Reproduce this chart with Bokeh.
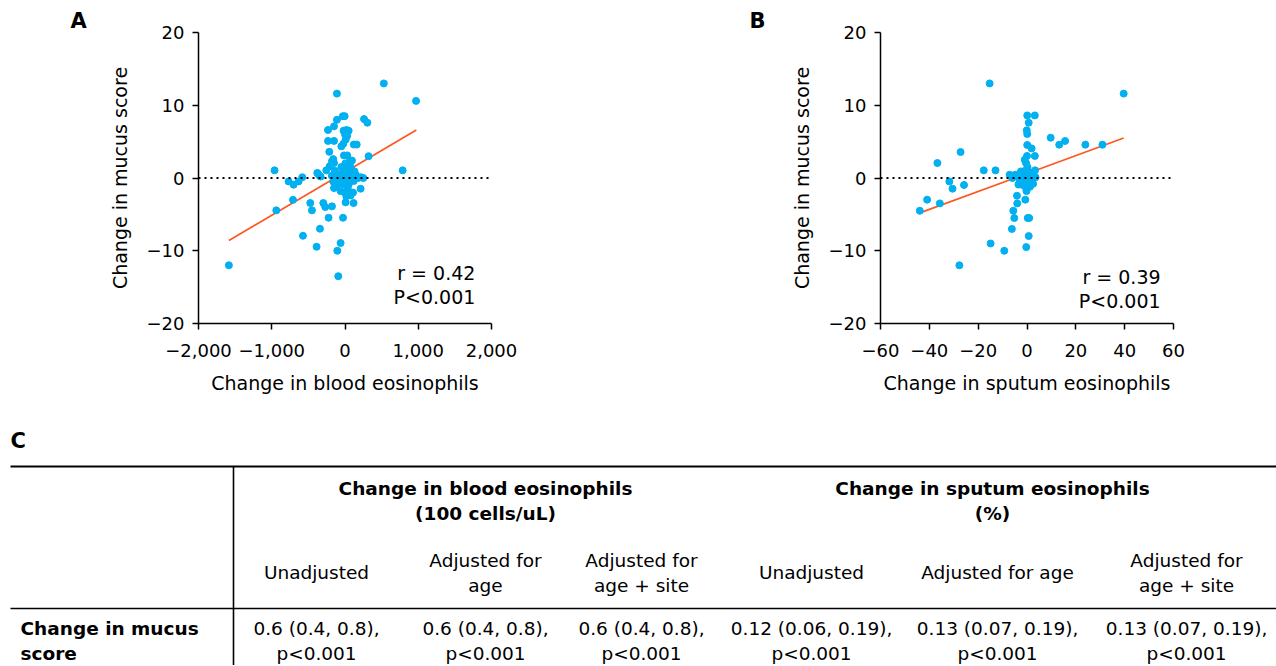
from bokeh.plotting import figure
from bokeh.models import Range1d, FixedTicker, Span, Label, ColumnDataSource
from bokeh.layouts import row, column
from bokeh.embed import file_html
from bokeh.resources import INLINE
from bokeh.core.properties import value

FONT = "DejaVu Sans"

# ---------------- Data ----------------
# Panel A: change in blood eosinophils vs change in mucus score
blood_x = [530, -110, 970, -30, -5, -110, -150, -232, 260, 305,
           -20, 20, 50, 0, 30, 10, -232, -150, -50, -23,
           120, 160, -214, -14, 31, 322, -160, -178, 95, -962,
           787, -210, -255, -378, -347, -583, -770, -702, -634, -333,
           -710, -938, -474, -451, -296, -269, -178, -224, -27, -574,
           -342, -388, -60, -105, -92, 18, 77, 8, 117, 213,
           -150, -105, 50, -1585, -180, -120, -80, -60, -40, -20,
           0, 10, 20, 35, 50, 60, 80, 100, 120, 150,
           180, 220, -140, -90, -10, 40, 90, -50, 5, 70,
           -100, -30, 130, 250, -160, -150, -369, 60, 0, -60,
           110, 40]
blood_y = [13.0, 11.6, 10.6, 8.5, 8.5, 8.0, 7.1, 6.6, 8.1, 7.6,
           6.5, 6.6, 6.5, 6.0, 5.8, 5.3, 5.1, 5.1, 4.35, 4.7,
           4.6, 4.6, 3.6, 3.1, 3.1, 3.0, 2.6, 2.3, 2.4, 1.05,
           1.05, 1.6, 1.05, 0.7, 0.3, 0.1, -0.47, -0.92, -0.47, 0.2,
           -3.0, -4.45, -3.44, -4.45, -3.44, -3.99, -3.9, -5.46, -5.46, -7.94,
           -6.97, -9.45, -8.94, -10.0, -13.5, -2.5, -2.4, -3.35, -3.44, -1.47,
           -1.38, -0.92, -0.92, -12.0, 0.3, 0.0, 0.5, -0.3, 0.2, 1.2,
           0.6, -0.5, 0.0, 0.9, 0.3, -0.2, 0.6, 0.0, -0.4, 0.4,
           0.0, 0.1, 1.0, -0.8, -0.9, -1.0, 1.1, 1.5, 2.0, 1.6,
           0.5, -0.1, 0.9, 0.0, -0.5, 2.06, 0.6, 2.2, -2.0, -1.8,
           -2.0, -1.6]
fit_a_x = [-1585, 974]
fit_a_y = [-8.6, 6.6]
stat_a = ["r = 0.42", "P<0.001"]

# Panel B: change in sputum eosinophils vs change in mucus score
sputum_x = [-15.3, 0.1, 3.2, 0.7, -0.1, 0.1, 9.7, 13.2, 15.6, -27.2,
            -36.7, 0.1, 1.9, 0.0, 3.2, -0.4, -0.95, -17.7, -12.9, 3.3,
            23.9, 30.9, 39.6, -7.1, -4.8, -31.8, -30.5, -25.8, -40.9, -35.7,
            -43.9, -4.1, -4.0, -0.7, -5.6, -5.2, 0.3, 0.9, -6.2, 0.7,
            -0.3, -14.9, -9.3, -27.7, -2.2, -0.4, -6.0, -4.0, -3.0, -2.0,
            -1.0, 0.0, 0.5, 1.0, 1.5, 2.0, 2.5, 3.5, -1.5, -2.5,
            0.2, 1.2, -0.8, -3.5, 0.8, -0.2]
sputum_y = [13.0, 8.6, 8.6, 7.6, 6.55, 6.05, 5.54, 4.58, 5.09, 3.57,
            2.06, 4.54, 4.07, 3.03, 3.03, 2.06, 2.5, 1.05, 1.05, 1.05,
            4.58, 4.58, 11.6, 0.45, 0.45, -0.47, -1.47, -0.96, -2.98, -3.49,
            -4.5, -2.43, -3.49, -2.98, -4.5, -5.5, -5.5, -5.5, -7.0, -7.98,
            -9.5, -9.0, -10.0, -12.0, -0.92, -1.38, 0.0, 0.3, -0.2, 0.5,
            0.0, 0.3, -0.5, 0.8, -0.2, 0.4, -0.8, 0.1, -0.6, 0.9,
            1.5, -1.2, 1.0, -0.9, 0.0, -1.8]
fit_b_x = [-43.9, 39.6]
fit_b_y = [-4.8, 5.5]
stat_b = ["r = 0.39", "P<0.001"]

# Axes
y_ticks = [-20, -10, 0, 10, 20]
y_tick_labels = ["\u221220", "\u221210", "0", "10", "20"]
xa_ticks = [-2000, -1000, 0, 1000, 2000]
xa_tick_labels = ["\u22122,000", "\u22121,000", "0", "1,000", "2,000"]
xb_ticks = [-60, -40, -20, 0, 20, 40, 60]
xb_tick_labels = ["\u221260", "\u221240", "\u221220", "0", "20", "40", "60"]
y_title = "Change in mucus score"
xa_title = "Change in blood eosinophils"
xb_title = "Change in sputum eosinophils"

# Panel C table
group_headers = [["Change in blood eosinophils", "(100 cells/uL)"],
                 ["Change in sputum eosinophils", "(%)"]]
sub_headers = [["Unadjusted"], ["Adjusted for", "age"], ["Adjusted for", "age + site"],
               ["Unadjusted"], ["Adjusted for age"], ["Adjusted for", "age + site"]]
row_label = ["Change in mucus", "score"]
estimates = ["0.6 (0.4, 0.8),", "0.6 (0.4, 0.8),", "0.6 (0.4, 0.8),",
             "0.12 (0.06, 0.19),", "0.13 (0.07, 0.19),", "0.13 (0.07, 0.19),"]
p_values = ["p<0.001", "p<0.001", "p<0.001", "p<0.001", "p<0.001", "p<0.001"]

# ---------------- Styling ----------------
DOT = "#00B0F0"
FIT = "#FF5722"


def style(p, xticks, xlabels):
    p.grid.visible = False
    p.outline_line_color = None
    p.xaxis.ticker = FixedTicker(ticks=xticks)
    p.xaxis.major_label_overrides = {t: l for t, l in zip(xticks, xlabels)}
    p.yaxis.ticker = FixedTicker(ticks=y_ticks)
    p.yaxis.major_label_overrides = {t: l for t, l in zip(y_ticks, y_tick_labels)}
    for ax in (p.xaxis[0], p.yaxis[0]):
        ax.axis_line_color = "black"
        ax.axis_line_width = 1.5
        ax.major_tick_line_color = "black"
        ax.major_tick_line_width = 1.5
        ax.major_tick_out = 6
        ax.major_tick_in = 0
        ax.minor_tick_line_color = None
        ax.major_label_text_font = FONT
        ax.major_label_text_font_size = "18px"
        ax.major_label_text_color = "black"
        ax.axis_label_text_font = FONT
        ax.axis_label_text_font_size = "19px"
        ax.axis_label_text_font_style = "normal"
        ax.axis_label_text_color = "black"
    p.yaxis.major_label_standoff = 8
    p.xaxis.major_label_standoff = 14
    p.yaxis.axis_label_standoff = 13
    p.xaxis.axis_label_standoff = 12


def scatter_panel(width, left, right, xr, xs, ys, fx, fy, xticks, xlabels, xtitle,
                  stats, stat_x, stat_y, letter, letter_offset):
    p = figure(width=width, height=420, x_range=Range1d(*xr), y_range=Range1d(-20, 20),
               min_border_left=left, min_border_right=right, min_border_top=32,
               min_border_bottom=97, toolbar_location=None, output_backend="svg",
               background_fill_color="white", border_fill_color="white")
    style(p, xticks, xlabels)
    p.title.text = letter
    p.title.align = "left"
    p.title.offset = letter_offset
    p.title.standoff = 0
    p.title.text_font = FONT
    p.title.text_font_style = "bold"
    p.title.text_font_size = "21px"
    p.title.text_color = "black"
    p.xaxis.axis_label = xtitle
    p.yaxis.axis_label = y_title
    p.add_layout(Span(location=0, dimension="width", line_color="black",
                      line_dash="2 4", line_width=2))
    p.line(fx, fy, line_color=FIT, line_width=1.7)
    p.scatter(xs, ys, size=7, fill_color=DOT, line_color=DOT)
    for txt, yy in zip(stats, stat_y):
        p.add_layout(Label(x=stat_x, y=yy, text=txt, text_align="right",
                           text_baseline="middle", text_font=FONT,
                           text_font_size="19px", text_color="black"))
    return p


pA = scatter_panel(640, 198, 149, (-2000, 2000), blood_x, blood_y, fit_a_x, fit_a_y,
                   xa_ticks, xa_tick_labels, xa_title, stat_a, 1780, [-13.0, -16.3],
                   "A", -128)
pB = scatter_panel(636, 240, 103, (-60, 60), sputum_x, sputum_y, fit_b_x, fit_b_y,
                   xb_ticks, xb_tick_labels, xb_title, stat_b, 54.7, [-13.6, -16.9],
                   "B", -131)

# ---------------- Table ----------------
TW, TH = 1276, 245
pT = figure(width=TW, height=TH, x_range=Range1d(0, TW), y_range=Range1d(TH, 0),
            min_border=0, toolbar_location=None, output_backend="svg",
            x_axis_type=None, y_axis_type=None,
            background_fill_color="white", border_fill_color="white")
pT.grid.visible = False
pT.outline_line_color = None

col_x = [316, 485, 641, 811, 997, 1186]
group_x = [485, 992]
LH = 25

# rules
pT.segment(x0=[10, 10, 233], y0=[46, 188, 46], x1=[TW, TW, 233], y1=[46, 188, TH],
           line_color="black", line_width=[2, 1.6, 1.6])

bold_txt, bold_x, bold_y, bold_align = [], [], [], []
norm_txt, norm_x, norm_y = [], [], []

bold_txt.append("C"); bold_x.append(10); bold_y.append(20); bold_align.append("left")
for gx, lines in zip(group_x, group_headers):
    for i, t in enumerate(lines):
        bold_txt.append(t); bold_x.append(gx); bold_y.append(68 + i * LH); bold_align.append("center")
for i, t in enumerate(row_label):
    bold_txt.append(t); bold_x.append(20); bold_y.append(208 + i * LH); bold_align.append("left")

for cx, lines in zip(col_x, sub_headers):
    y0 = 152 - (len(lines) - 1) * LH / 2
    for i, t in enumerate(lines):
        norm_txt.append(t); norm_x.append(cx); norm_y.append(y0 + i * LH)
for cx, e, pv in zip(col_x, estimates, p_values):
    norm_txt += [e, pv]; norm_x += [cx, cx]; norm_y += [208, 208 + LH]

bsrc = ColumnDataSource(dict(x=bold_x, y=bold_y, t=bold_txt, a=bold_align))
bsrc.data["s"] = ["21px"] + ["18.5px"] * (len(bold_txt) - 1)
pT.text(x="x", y="y", text="t", source=bsrc, text_align="a", text_baseline="middle",
        text_font=value(FONT), text_font_style="bold", text_font_size="s",
        text_color="black")
pT.text(x=norm_x, y=norm_y, text=norm_txt, text_align="center", text_baseline="middle",
        text_font=value(FONT), text_font_size=value("18.5px"), text_color="black")

layout = column(row(pA, pB), pT)
open("out.html", "w").write(file_html(layout, INLINE))
